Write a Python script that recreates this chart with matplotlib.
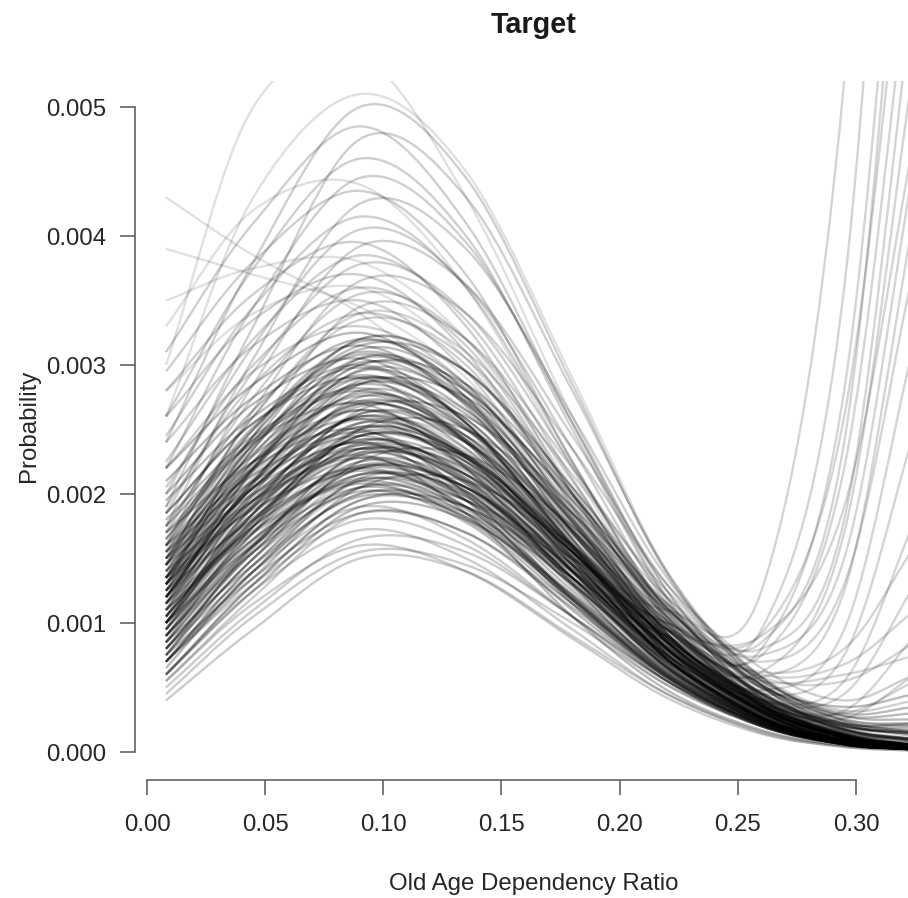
import numpy as np
import matplotlib
matplotlib.use("Agg")
import matplotlib.pyplot as plt
from matplotlib.path import Path
from matplotlib.patches import PathPatch

plt.rcParams["font.family"] = ["Liberation Sans", "DejaVu Sans"]

# ---------------- data (probabilities in per-mille) ----------------
knots_x = [0.008, 0.045, 0.09, 0.135, 0.18, 0.22, 0.26, 0.295, 0.325]

lower_curves = [
    [0.40, 0.95, 1.50, 1.40, 0.90, 0.45, 0.15, 0.04, 0.01],
    [0.45, 1.05, 1.55, 1.45, 1.00, 0.52, 0.20, 0.06, 0.02],
    [0.55, 1.15, 1.60, 1.40, 0.88, 0.42, 0.14, 0.04, 0.01],
    [0.50, 1.10, 1.65, 1.55, 1.05, 0.55, 0.22, 0.07, 0.03],
    [0.60, 1.25, 1.72, 1.50, 0.95, 0.45, 0.16, 0.05, 0.02],
    [0.70, 1.30, 1.80, 1.60, 1.05, 0.55, 0.22, 0.08, 0.04],
    [0.55, 1.20, 1.85, 1.70, 1.15, 0.60, 0.24, 0.08, 0.03],
    [0.80, 1.40, 1.90, 1.65, 1.05, 0.52, 0.20, 0.07, 0.03],
]

core_curves = [
    [0.65, 1.40, 2.00, 1.85, 1.20, 0.62, 0.24, 0.08, 0.03],
    [0.90, 1.55, 2.02, 1.78, 1.10, 0.55, 0.20, 0.06, 0.02],
    [0.75, 1.50, 2.05, 1.90, 1.30, 0.70, 0.30, 0.10, 0.04],
    [1.10, 1.70, 2.08, 1.80, 1.15, 0.58, 0.22, 0.07, 0.03],
    [0.70, 1.45, 2.10, 1.95, 1.35, 0.75, 0.32, 0.12, 0.05],
    [1.00, 1.65, 2.12, 1.88, 1.20, 0.60, 0.23, 0.07, 0.02],
    [0.85, 1.60, 2.15, 1.98, 1.38, 0.78, 0.38, 0.20, 0.15],
    [1.25, 1.80, 2.18, 1.90, 1.22, 0.60, 0.22, 0.06, 0.02],
    [0.80, 1.55, 2.20, 2.05, 1.45, 0.82, 0.36, 0.13, 0.05],
    [1.05, 1.75, 2.22, 1.98, 1.30, 0.66, 0.26, 0.08, 0.03],
    [0.95, 1.70, 2.25, 2.05, 1.40, 0.75, 0.32, 0.11, 0.04],
    [1.40, 1.95, 2.28, 1.95, 1.25, 0.62, 0.24, 0.07, 0.02],
    [0.75, 1.60, 2.30, 2.15, 1.50, 0.85, 0.40, 0.18, 0.10],
    [1.15, 1.85, 2.32, 2.05, 1.35, 0.68, 0.26, 0.08, 0.03],
    [1.00, 1.78, 2.35, 2.12, 1.45, 0.78, 0.33, 0.12, 0.05],
    [1.30, 1.95, 2.38, 2.08, 1.35, 0.66, 0.25, 0.07, 0.02],
    [0.90, 1.75, 2.40, 2.22, 1.55, 0.88, 0.42, 0.22, 0.20],
    [1.20, 1.92, 2.42, 2.15, 1.42, 0.72, 0.28, 0.09, 0.03],
    [1.55, 2.10, 2.45, 2.10, 1.35, 0.65, 0.24, 0.07, 0.02],
    [1.05, 1.85, 2.48, 2.25, 1.55, 0.85, 0.38, 0.15, 0.08],
    [0.85, 1.75, 2.50, 2.30, 1.60, 0.90, 0.42, 0.20, 0.14],
    [1.35, 2.05, 2.52, 2.22, 1.45, 0.72, 0.27, 0.08, 0.03],
    [1.10, 1.95, 2.55, 2.30, 1.55, 0.82, 0.34, 0.12, 0.05],
    [1.70, 2.25, 2.58, 2.20, 1.40, 0.68, 0.25, 0.07, 0.02],
    [1.25, 2.05, 2.60, 2.32, 1.55, 0.80, 0.32, 0.10, 0.04],
    [0.95, 1.90, 2.62, 2.40, 1.68, 0.95, 0.50, 0.35, 0.45],
    [1.45, 2.18, 2.65, 2.30, 1.48, 0.73, 0.27, 0.08, 0.02],
    [1.15, 2.02, 2.68, 2.42, 1.62, 0.86, 0.36, 0.13, 0.05],
    [1.30, 2.12, 2.70, 2.40, 1.58, 0.80, 0.31, 0.09, 0.03],
    [1.60, 2.30, 2.72, 2.35, 1.50, 0.72, 0.26, 0.07, 0.02],
    [1.05, 2.00, 2.75, 2.50, 1.72, 0.95, 0.44, 0.20, 0.16],
    [1.40, 2.20, 2.78, 2.45, 1.60, 0.80, 0.30, 0.09, 0.03],
    [1.20, 2.10, 2.80, 2.52, 1.70, 0.90, 0.38, 0.13, 0.05],
    [1.80, 2.45, 2.82, 2.42, 1.52, 0.72, 0.26, 0.07, 0.02],
    [1.50, 2.32, 2.85, 2.50, 1.62, 0.80, 0.30, 0.09, 0.03],
    [1.10, 2.08, 2.88, 2.62, 1.80, 0.98, 0.45, 0.22, 0.22],
    [1.35, 2.25, 2.90, 2.58, 1.70, 0.86, 0.34, 0.11, 0.04],
    [1.65, 2.42, 2.92, 2.52, 1.60, 0.76, 0.27, 0.08, 0.02],
    [1.25, 2.20, 2.95, 2.65, 1.78, 0.92, 0.38, 0.13, 0.05],
    [1.95, 2.60, 3.00, 2.55, 1.58, 0.74, 0.26, 0.07, 0.02],
    [1.45, 2.38, 3.02, 2.70, 1.78, 0.90, 0.35, 0.11, 0.04],
    [1.15, 2.20, 3.05, 2.80, 1.95, 1.08, 0.52, 0.28, 0.30],
    [1.60, 2.50, 3.08, 2.70, 1.72, 0.84, 0.31, 0.09, 0.03],
    [1.30, 2.35, 3.12, 2.82, 1.88, 0.96, 0.40, 0.14, 0.05],
    [2.10, 2.75, 3.15, 2.68, 1.65, 0.76, 0.27, 0.07, 0.02],
    [1.50, 2.50, 3.18, 2.85, 1.85, 0.92, 0.36, 0.11, 0.04],
    [1.75, 2.65, 3.20, 2.80, 1.78, 0.86, 0.32, 0.09, 0.03],
    [1.00, 1.90, 2.30, 1.85, 1.05, 0.48, 0.17, 0.05, 0.02],
    [0.70, 1.35, 2.05, 2.10, 1.60, 0.95, 0.45, 0.18, 0.08],
    [1.20, 2.00, 2.40, 1.95, 1.15, 0.55, 0.20, 0.06, 0.02],
    [0.80, 1.50, 2.25, 2.30, 1.75, 1.05, 0.50, 0.22, 0.12],
    [1.50, 2.20, 2.50, 2.00, 1.18, 0.56, 0.20, 0.06, 0.02],
    [0.90, 1.70, 2.50, 2.50, 1.85, 1.10, 0.52, 0.24, 0.15],
    [1.30, 2.05, 2.60, 2.25, 1.40, 0.66, 0.24, 0.07, 0.02],
    [1.00, 1.85, 2.65, 2.60, 1.90, 1.12, 0.55, 0.28, 0.25],
    [1.70, 2.40, 2.70, 2.20, 1.30, 0.60, 0.21, 0.06, 0.02],
    [1.20, 2.10, 2.85, 2.75, 1.98, 1.15, 0.56, 0.30, 0.35],
    [1.85, 2.55, 2.90, 2.40, 1.45, 0.68, 0.24, 0.07, 0.02],
    [1.35, 2.30, 3.00, 2.85, 2.00, 1.12, 0.52, 0.25, 0.22],
    [2.00, 2.70, 3.05, 2.55, 1.55, 0.72, 0.26, 0.07, 0.02],
    [1.45, 2.45, 3.15, 2.95, 2.05, 1.12, 0.50, 0.22, 0.18],
    [0.95, 1.65, 2.15, 1.95, 1.30, 0.70, 0.30, 0.12, 0.06],
    [1.10, 1.75, 2.20, 2.00, 1.35, 0.72, 0.32, 0.14, 0.10],
    [0.60, 1.30, 1.95, 1.90, 1.35, 0.75, 0.35, 0.16, 0.10],
    [1.30, 1.90, 2.35, 2.10, 1.40, 0.72, 0.28, 0.09, 0.03],
    [1.50, 2.05, 2.40, 2.08, 1.32, 0.64, 0.23, 0.06, 0.02],
    [1.00, 1.80, 2.45, 2.28, 1.58, 0.88, 0.40, 0.17, 0.10],
    [0.60, 1.25, 1.90, 1.80, 1.22, 0.64, 0.26, 0.09, 0.03],
    [0.85, 1.45, 1.98, 1.82, 1.18, 0.58, 0.21, 0.06, 0.02],
    [1.15, 1.72, 2.10, 1.85, 1.18, 0.58, 0.21, 0.06, 0.02],
    [0.70, 1.40, 2.12, 2.02, 1.42, 0.80, 0.36, 0.14, 0.06],
    [1.35, 1.88, 2.20, 1.90, 1.20, 0.58, 0.21, 0.06, 0.02],
    [0.90, 1.62, 2.22, 2.05, 1.40, 0.76, 0.33, 0.12, 0.05],
    [1.20, 1.82, 2.28, 2.02, 1.32, 0.66, 0.25, 0.08, 0.03],
    [0.80, 1.58, 2.32, 2.20, 1.55, 0.88, 0.41, 0.18, 0.09],
    [1.45, 2.00, 2.35, 2.02, 1.28, 0.62, 0.22, 0.06, 0.02],
    [1.05, 1.80, 2.38, 2.18, 1.48, 0.80, 0.34, 0.12, 0.05],
    [1.25, 1.95, 2.42, 2.15, 1.40, 0.70, 0.27, 0.08, 0.03],
    [0.95, 1.78, 2.45, 2.28, 1.58, 0.88, 0.40, 0.17, 0.09],
    [1.60, 2.15, 2.48, 2.12, 1.35, 0.65, 0.23, 0.06, 0.02],
    [1.15, 1.98, 2.52, 2.28, 1.52, 0.80, 0.33, 0.11, 0.04],
    [1.35, 2.10, 2.58, 2.28, 1.48, 0.74, 0.28, 0.08, 0.03],
    [1.00, 1.92, 2.62, 2.45, 1.72, 0.98, 0.46, 0.21, 0.14],
    [1.55, 2.25, 2.65, 2.28, 1.45, 0.70, 0.25, 0.07, 0.02],
    [1.20, 2.08, 2.72, 2.45, 1.65, 0.86, 0.35, 0.12, 0.05],
    [1.45, 2.25, 2.76, 2.42, 1.56, 0.78, 0.29, 0.09, 0.03],
    [1.75, 2.42, 2.80, 2.40, 1.50, 0.72, 0.26, 0.07, 0.02],
    [1.30, 2.22, 2.86, 2.58, 1.72, 0.90, 0.37, 0.13, 0.05],
    [1.55, 2.38, 2.90, 2.55, 1.65, 0.82, 0.31, 0.09, 0.03],
    [1.20, 2.18, 2.96, 2.72, 1.85, 1.00, 0.46, 0.20, 0.14],
    [1.85, 2.55, 2.98, 2.55, 1.60, 0.76, 0.27, 0.07, 0.02],
    [1.40, 2.35, 3.05, 2.75, 1.82, 0.92, 0.36, 0.12, 0.04],
    [1.65, 2.52, 3.10, 2.72, 1.75, 0.85, 0.32, 0.09, 0.03],
    [1.35, 2.40, 3.20, 2.95, 2.00, 1.05, 0.45, 0.17, 0.08],
    [2.20, 2.85, 3.25, 2.75, 1.70, 0.80, 0.28, 0.07, 0.02],
    [0.75, 1.35, 1.85, 1.70, 1.12, 0.58, 0.22, 0.07, 0.03],
    [1.00, 1.60, 2.05, 1.82, 1.18, 0.60, 0.23, 0.07, 0.02],
]

upper_curves = [
    [2.20, 2.95, 3.30, 2.85, 1.80, 0.88, 0.32, 0.09, 0.03],
    [1.55, 2.60, 3.35, 3.05, 2.02, 1.02, 0.40, 0.13, 0.05],
    [1.90, 2.85, 3.40, 3.00, 1.92, 0.92, 0.34, 0.10, 0.03],
    [1.30, 2.45, 3.45, 3.20, 2.20, 1.20, 0.58, 0.32, 0.40],
    [2.40, 3.15, 3.50, 2.95, 1.82, 0.85, 0.30, 0.08, 0.02],
    [1.70, 2.75, 3.55, 3.20, 2.10, 1.05, 0.40, 0.13, 0.05],
    [2.05, 3.00, 3.60, 3.15, 2.00, 0.98, 0.36, 0.11, 0.03],
    [1.45, 2.65, 3.65, 3.40, 2.35, 1.30, 0.65, 0.40, 0.60],
    [2.60, 3.35, 3.70, 3.10, 1.90, 0.88, 0.31, 0.08, 0.02],
    [1.85, 2.95, 3.78, 3.40, 2.22, 1.10, 0.42, 0.14, 0.05],
    [2.25, 3.20, 3.85, 3.35, 2.12, 1.02, 0.37, 0.11, 0.03],
    [1.60, 2.85, 3.92, 3.62, 2.45, 1.30, 0.58, 0.26, 0.20],
    [2.80, 3.55, 3.95, 3.30, 2.00, 0.92, 0.32, 0.08, 0.02],
    [2.00, 3.15, 4.05, 3.62, 2.35, 1.15, 0.44, 0.14, 0.05],
    [2.45, 3.45, 4.15, 3.60, 2.25, 1.08, 0.38, 0.11, 0.03],
    [1.75, 3.05, 4.25, 3.90, 2.60, 1.35, 0.58, 0.24, 0.16],
    [2.95, 3.80, 4.35, 3.70, 2.25, 1.05, 0.36, 0.10, 0.03],
    [2.20, 3.45, 4.45, 3.95, 2.55, 1.25, 0.48, 0.15, 0.05],
    [2.60, 3.75, 4.60, 4.00, 2.50, 1.18, 0.42, 0.12, 0.04],
    [1.90, 3.30, 4.75, 4.30, 2.80, 1.40, 0.55, 0.18, 0.06],
    [3.10, 4.10, 4.85, 4.10, 2.55, 1.20, 0.42, 0.12, 0.03],
    [2.40, 3.80, 5.00, 4.45, 2.85, 1.38, 0.52, 0.16, 0.05],
]

outlier_curves = [
    [4.30, 3.85, 3.40, 2.75, 1.80, 0.95, 0.38, 0.12, 0.04],
    [3.90, 3.70, 3.45, 2.90, 1.90, 0.98, 0.38, 0.12, 0.04],
    [3.50, 3.75, 3.80, 3.20, 2.05, 1.00, 0.38, 0.11, 0.03],
    [3.00, 5.00, 5.40, 4.30, 2.60, 1.25, 0.45, 0.13, 0.04],
    [2.60, 4.30, 5.10, 4.50, 2.90, 1.40, 0.52, 0.15, 0.05],
    [3.30, 4.20, 4.40, 3.60, 2.20, 1.02, 0.36, 0.10, 0.03],
    [2.80, 3.40, 3.60, 3.05, 1.95, 0.95, 0.35, 0.10, 0.03],
]

upturn_curves = [
    [0.70, 1.45, 2.05, 1.95, 1.50, 1.10, 1.25, 5.20, 14.0],
    [0.90, 1.60, 2.20, 2.05, 1.50, 1.00, 0.95, 3.60, 11.0],
    [0.60, 1.30, 1.95, 1.85, 1.35, 0.90, 0.80, 2.80, 8.50],
    [1.00, 1.75, 2.35, 2.15, 1.55, 0.95, 0.75, 2.20, 6.50],
    [0.75, 1.50, 2.15, 2.00, 1.40, 0.85, 0.62, 1.70, 5.40],
    [1.10, 1.85, 2.45, 2.25, 1.55, 0.90, 0.58, 1.25, 4.20],
    [0.85, 1.60, 2.25, 2.10, 1.45, 0.82, 0.48, 0.95, 3.20],
    [1.20, 1.95, 2.55, 2.30, 1.55, 0.85, 0.45, 0.75, 2.50],
    [0.95, 1.70, 2.35, 2.20, 1.50, 0.80, 0.40, 0.55, 1.80],
    [1.30, 2.05, 2.60, 2.35, 1.58, 0.85, 0.40, 0.45, 1.30],
    [1.05, 1.80, 2.45, 2.25, 1.52, 0.80, 0.35, 0.32, 0.90],
    [0.80, 1.55, 2.20, 2.05, 1.42, 0.75, 0.33, 0.26, 0.60],
    [1.40, 2.15, 2.70, 2.40, 1.60, 0.85, 0.38, 0.30, 0.55],
    [1.50, 2.45, 3.20, 2.95, 2.05, 1.20, 0.80, 1.80, 6.00],
    [1.25, 2.25, 3.00, 2.80, 1.95, 1.15, 0.85, 2.40, 8.00],
    [1.60, 2.60, 3.40, 3.10, 2.15, 1.25, 0.70, 1.30, 3.80],
    [0.90, 1.65, 2.30, 2.15, 1.52, 0.90, 0.55, 0.60, 0.75],
    [1.15, 1.90, 2.50, 2.30, 1.60, 0.95, 0.62, 0.80, 1.60],
    [0.70, 1.40, 2.00, 1.90, 1.40, 0.95, 0.90, 1.90, 4.80],
    [1.35, 2.20, 2.85, 2.65, 1.85, 1.10, 0.75, 1.50, 4.60],
    [0.85, 1.55, 2.10, 1.95, 1.45, 1.00, 0.92, 2.60, 7.20],
    [1.05, 1.85, 2.55, 2.40, 1.70, 1.02, 0.60, 0.68, 1.10],
    [1.25, 2.05, 2.70, 2.50, 1.75, 1.02, 0.58, 0.55, 0.85],
]

x_ticks = [0.00, 0.05, 0.10, 0.15, 0.20, 0.25, 0.30]
y_ticks = [0.000, 0.001, 0.002, 0.003, 0.004, 0.005]

title = "Target"
x_label = "Old Age Dependency Ratio"
y_label = "Probability"

# ---------------- drawing ----------------
W, H = 908, 898
fig = plt.figure(figsize=(W / 100, H / 100), dpi=100)
ax = fig.add_axes([135 / W, (H - 780) / H, (933 - 135) / W, (780 - 81) / H])
ax.set_xlim(-0.005078, 0.33259)
ax.set_ylim(-0.000217, 0.0052016)


def smooth_path(xs, ys):
    pts = np.column_stack([xs, ys])
    first = 2 * pts[0] - pts[1]
    last = 2 * pts[-1] - pts[-2]
    P = np.vstack([first, pts, last])
    verts = [pts[0]]
    codes = [Path.MOVETO]
    for i in range(len(pts) - 1):
        p0, p1, p2, p3 = P[i], P[i + 1], P[i + 2], P[i + 3]
        verts += [p1 + (p2 - p0) / 6.0, p2 - (p3 - p1) / 6.0, p2]
        codes += [Path.CURVE4] * 3
    return Path(verts, codes)


groups = [
    (lower_curves, 0.20),
    (core_curves, 0.27),
    (upper_curves, 0.19),
    (outlier_curves, 0.12),
    (upturn_curves, 0.17),
]
for curves, alpha in groups:
    for row in curves:
        ys = np.array(row) * 1e-3
        patch = PathPatch(smooth_path(knots_x, ys), facecolor="none",
                          edgecolor="black", lw=1.7, alpha=alpha)
        ax.add_patch(patch)

for s in ["top", "right"]:
    ax.spines[s].set_visible(False)
ax.spines["left"].set_bounds(0, 0.005)
ax.spines["bottom"].set_bounds(0, 0.30)
for s in ["left", "bottom"]:
    ax.spines[s].set_color("#555555")
    ax.spines[s].set_linewidth(1.1)

ax.set_xticks(x_ticks)
ax.set_xticklabels([f"{v:.2f}" for v in x_ticks])
ax.set_yticks(y_ticks)
ax.set_yticklabels([f"{v:.3f}" for v in y_ticks])
ax.tick_params(axis="both", direction="out", length=10.5, width=1.1,
               color="#555555", labelsize=17.3, labelcolor="#262626")
ax.tick_params(axis="y", pad=10.5)
ax.tick_params(axis="x", pad=14.0)
ax.set_facecolor("none")

fig.text(534 / W, 1 - 25 / H, title, ha="center", va="center",
         fontsize=20.7, fontweight="bold", color="#1a1a1a")
fig.text(534 / W, 1 - 884 / H, x_label, ha="center", va="center",
         fontsize=17.3, color="#262626")
fig.text(29 / W, 1 - 426 / H, y_label, ha="center", va="center",
         rotation=90, fontsize=17.3, color="#262626")

fig.savefig("out.png", dpi=100)
